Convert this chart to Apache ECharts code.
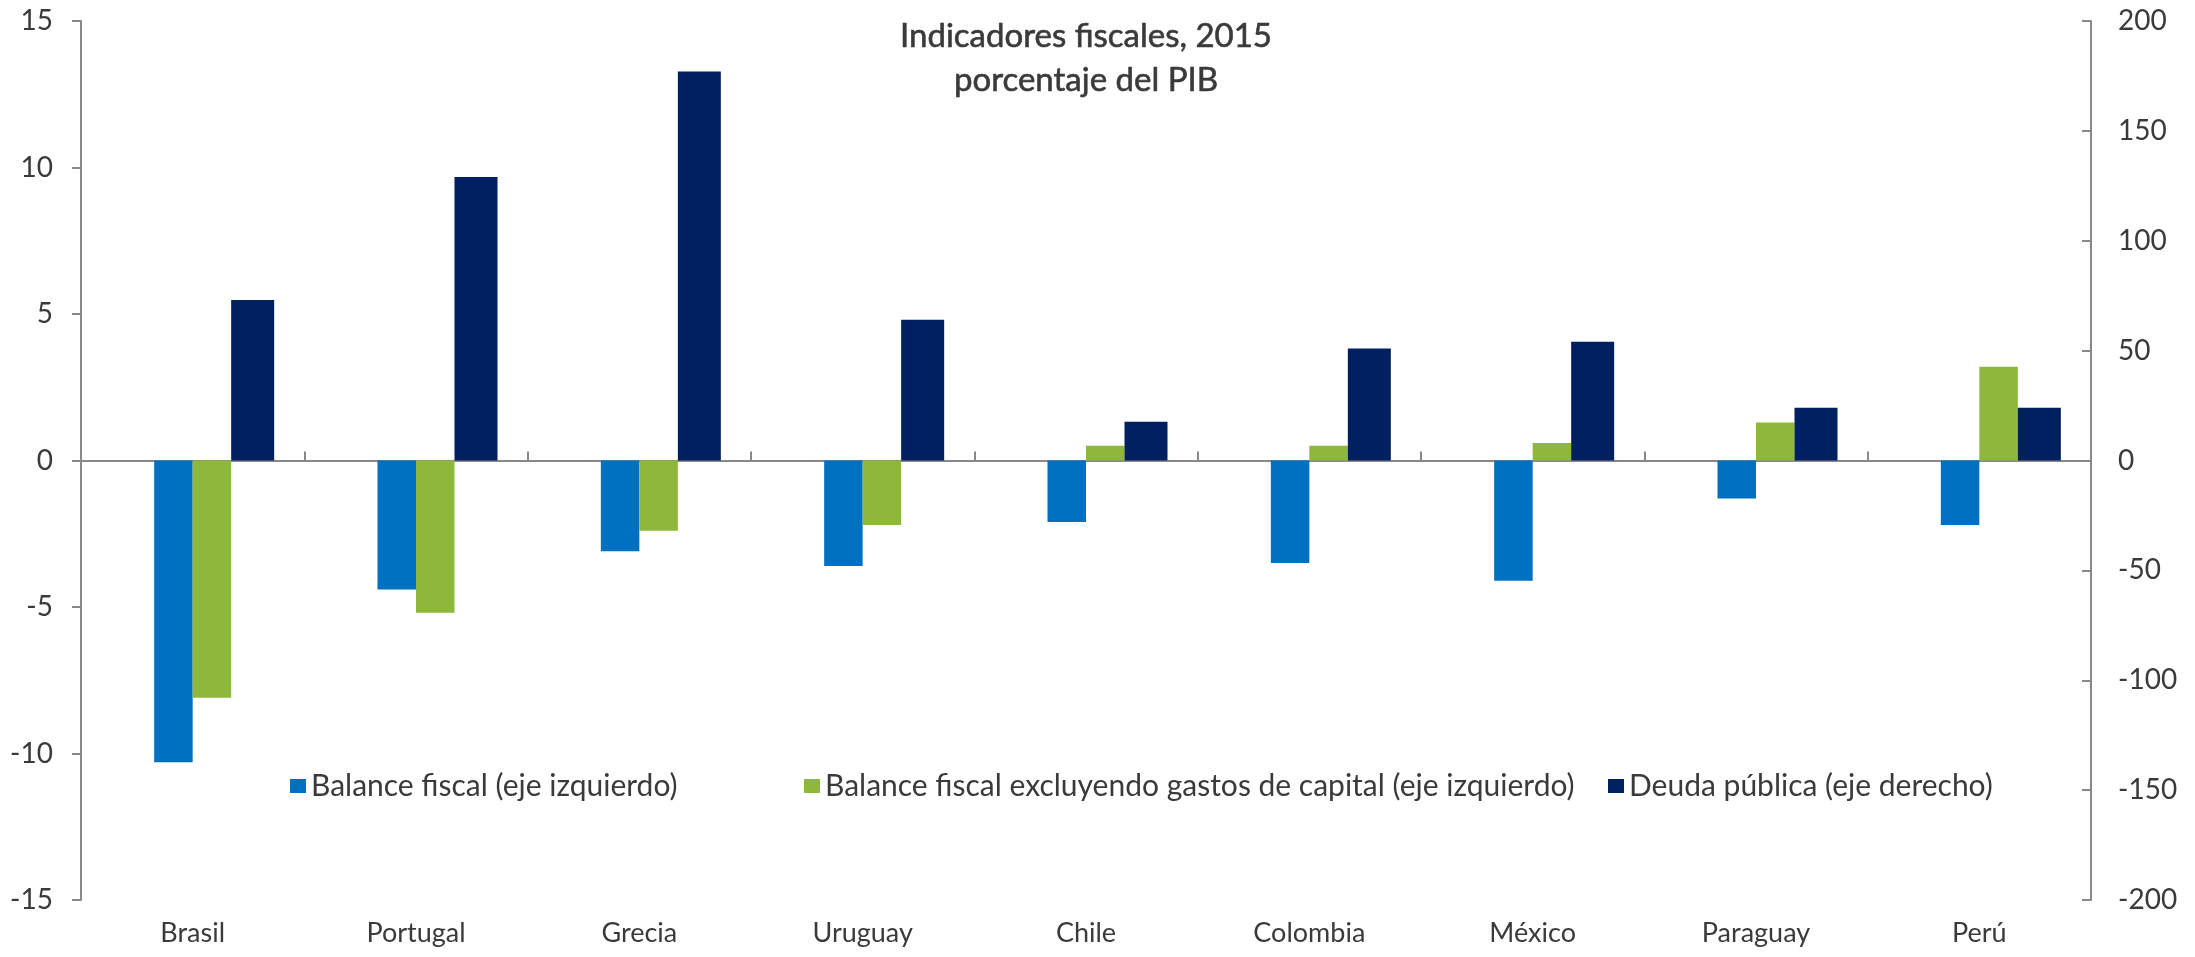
<!DOCTYPE html>
<html>
<head>
<meta charset="utf-8">
<script src="https://cdn.jsdelivr.net/npm/echarts@6/dist/echarts.min.js"></script>
<style>html,body{margin:0;padding:0;background:#fff}#c{width:2195px;height:957px}</style>
</head>
<body>
<div id="c"></div>
<script>
const categories = ['Brasil','Portugal','Grecia','Uruguay','Chile','Colombia','México','Paraguay','Perú'];
const balanceFiscal = [-10.3, -4.4, -3.1, -3.6, -2.1, -3.5, -4.1, -1.3, -2.2];
const balanceSinCapital = [-8.1, -5.2, -2.4, -2.2, 0.5, 0.5, 0.6, 1.3, 3.2];
const deudaPublica = [73, 129, 177, 64, 17.6, 51, 54, 24, 24];
const leftTicks = {min: -15, max: 15, interval: 5};
const rightTicks = {min: -200, max: 200, interval: 50};
const seriesNames = ['Balance fiscal (eje izquierdo)', 'Balance fiscal excluyendo gastos de capital (eje izquierdo)', 'Deuda pública (eje derecho)'];
const colors = ['#0070C0', '#8DB83B', '#002060'];

const FONT = 'Lato';
const TXT = '#3a3a3a';
const AX = '#898989';
const chart = echarts.init(document.getElementById('c'));
const legendCommon = {top: 771, icon: 'rect', itemWidth: 16, itemHeight: 14, itemGap: 0, padding: 0,
  textStyle: {fontFamily: FONT, fontSize: 30, color: TXT}};
chart.setOption({
  animation: false,
  backgroundColor: '#fff',
  title: {
    text: 'Indicadores fiscales, 2015\nporcentaje del PIB',
    left: 1086, top: 14, textAlign: 'center', padding: 0,
    textStyle: {fontFamily: FONT, fontSize: 33, fontWeight: 'normal', color: TXT, lineHeight: 44,
      textBorderColor: TXT, textBorderWidth: 0.6}
  },
  legend: [
    Object.assign({left: 290, data: [seriesNames[0]]}, legendCommon),
    Object.assign({left: 804, data: [seriesNames[1]]}, legendCommon),
    Object.assign({left: 1608, data: [seriesNames[2]]}, legendCommon)
  ],
  grid: {left: 81, right: 104, top: 21, bottom: 57},
  xAxis: [
    {type: 'category', data: categories, position: 'bottom',
     axisLine: {show: false, onZero: false}, axisTick: {show: false},
     axisLabel: {fontFamily: FONT, fontSize: 27, color: TXT, margin: 20}},
    {type: 'category', data: categories, position: 'top',
     axisLine: {show: true, onZero: true, onZeroAxisIndex: 0, lineStyle: {color: AX, width: 2}},
     axisTick: {show: true, length: 9, lineStyle: {color: AX, width: 2}},
     axisLabel: {show: false}}
  ],
  yAxis: [
    {type: 'value', position: 'left', min: leftTicks.min, max: leftTicks.max, interval: leftTicks.interval,
     splitLine: {show: false},
     axisLine: {show: true, lineStyle: {color: AX, width: 2}},
     axisTick: {show: true, length: 9, lineStyle: {color: AX, width: 2}},
     axisLabel: {fontFamily: FONT, fontSize: 28, color: TXT, margin: 28}},
    {type: 'value', position: 'right', min: rightTicks.min, max: rightTicks.max, interval: rightTicks.interval,
     splitLine: {show: false},
     axisLine: {show: true, lineStyle: {color: AX, width: 2}},
     axisTick: {show: true, inside: true, length: 9, lineStyle: {color: AX, width: 2}},
     axisLabel: {fontFamily: FONT, fontSize: 28, color: TXT, margin: 27}}
  ],
  series: [
    {name: 'pad', type: 'bar', xAxisIndex: 0, yAxisIndex: 0, data: [], barWidth: 43, barGap: '0%', silent: true},
    {name: seriesNames[0], type: 'bar', xAxisIndex: 0, yAxisIndex: 0, data: balanceFiscal, barWidth: 38.5, barGap: '0%',
     itemStyle: {color: colors[0]}},
    {name: seriesNames[1], type: 'bar', xAxisIndex: 0, yAxisIndex: 0, data: balanceSinCapital, barWidth: 38.5, barGap: '0%',
     itemStyle: {color: colors[1]}},
    {name: seriesNames[2], type: 'bar', xAxisIndex: 0, yAxisIndex: 1, data: deudaPublica, barWidth: 43, barGap: '0%',
     itemStyle: {color: colors[2]}}
  ]
});
</script>
</body>
</html>
